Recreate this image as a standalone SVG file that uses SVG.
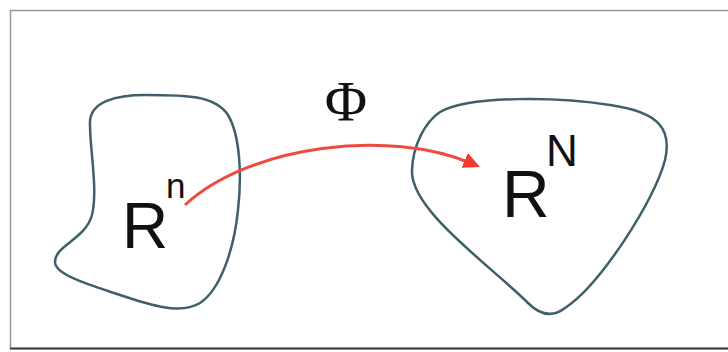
<svg xmlns="http://www.w3.org/2000/svg" width="728" height="352" viewBox="0 0 728 352">
  <style>
    .blob { fill: none; stroke: #3f5f6a; stroke-width: 2.5; stroke-linejoin: round; }
    .lbl { font-family: "Liberation Sans", Arial, sans-serif; fill: #111; }
    .phi { font-family: "Liberation Serif", "Times New Roman", serif; fill: #111; }
    .conn { fill: none; stroke: #ee4a3e; stroke-width: 3; }
  </style>
  <defs>
    <marker id="ah" markerWidth="6" markerHeight="6" refX="3" refY="3" orient="auto" markerUnits="strokeWidth">
      <path d="M0,0.3 L5.5,3 L0,5.7 Z" fill="#ee3b30"/>
    </marker>
  </defs>
  <rect x="0" y="0" width="728" height="352" fill="#ffffff"/>
  <g id="frame">
    <rect x="10.5" y="10.5" width="740" height="338" fill="none" stroke="#8b9ca6" stroke-width="1.5"/>
    <line x1="10" y1="348.5" x2="728" y2="348.5" stroke="#3a3a3a" stroke-width="2"/>
  </g>
  <g id="node-Rn">
    <path class="blob" d="M 90,125 C 88,100 120,95 145,95 C 185,95 215,95 228,115 C 240,135 242,175 238,210 C 234,250 220,290 200,303 C 180,315 150,305 120,295 C 90,285 55,275 55,262 C 55,245 85,240 92,215 C 98,190 90,150 90,125 Z"/>
    <text class="lbl" x="122" y="248" font-size="64">R</text>
    <text class="lbl" x="166" y="198" font-size="35">n</text>
  </g>
  <g id="node-RN">
    <path class="blob" d="M 440,112 C 470,95 560,97 610,105 C 660,112 672,130 665,160 C 655,200 600,285 565,308 C 552,318 540,315 528,303 C 490,265 410,210 412,170 C 413,145 425,122 440,112 Z"/>
    <text class="lbl" x="502" y="217" font-size="66">R</text>
    <text class="lbl" x="546" y="166" font-size="44">N</text>
  </g>
  <g id="connectors">
    <path class="conn" d="M 185,205 C 250,145 390,128 473,164" marker-end="url(#ah)"/>
    <text class="phi" x="346" y="121" font-size="58" text-anchor="middle">Φ</text>
  </g>
</svg>
